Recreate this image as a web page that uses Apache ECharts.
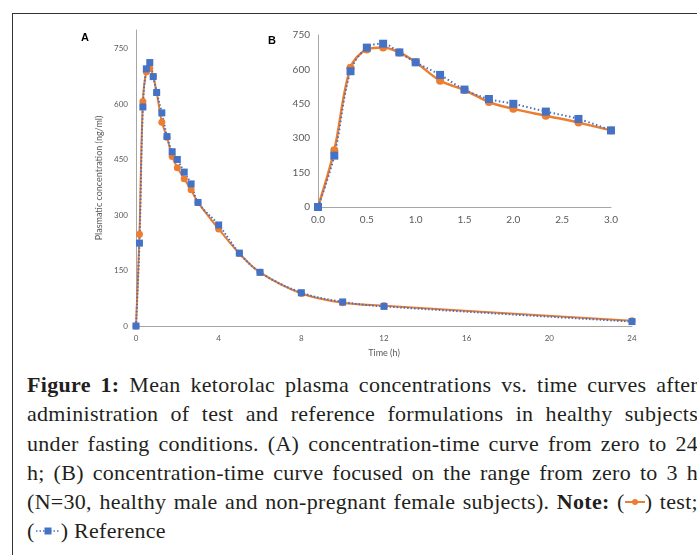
<!DOCTYPE html>
<html>
<head>
<meta charset="utf-8">
<script src="https://cdn.jsdelivr.net/npm/echarts@6/dist/echarts.min.js"></script>
<style>
html,body{margin:0;padding:0;width:697px;height:555px;overflow:hidden;background:#fff;}
#frame{position:absolute;left:12px;top:13px;width:800px;height:600px;border-top:1.5px solid #333;border-left:1.5px solid #333;}
#chart{position:absolute;left:0;top:0;width:697px;height:370px;}
#cap{position:absolute;left:27px;top:370px;width:671px;font-family:"Liberation Serif",serif;font-size:22px;line-height:29.3px;letter-spacing:0.3px;color:#231f20;}
#cap .j{text-align:justify;text-align-last:justify;white-space:nowrap;}
#cap b{font-weight:bold;}
.sym{display:inline-block;vertical-align:middle;margin-top:-4px;}
</style>
</head>
<body>
<div id="frame"></div>
<div id="chart"></div>
<div id="cap">
  <div class="j"><b>Figure 1:</b> Mean ketorolac plasma concentrations vs. time curves after</div>
  <div class="j">administration of test and reference formulations in healthy subjects</div>
  <div class="j">under fasting conditions. (A) concentration-time curve from zero to 24</div>
  <div class="j">h; (B) concentration-time curve focused on the range from zero to 3 h</div>
  <div class="j">(N=30, healthy male and non-pregnant female subjects). <b>Note:</b> (<svg class="sym" width="20" height="8"><line x1="0" y1="4" x2="20" y2="4" stroke="#ed7d31" stroke-width="2"/><circle cx="10" cy="4" r="3" fill="#ed7d31"/></svg>) test;</div>
  <div>(<svg class="sym" width="26" height="8"><line x1="1" y1="4" x2="25" y2="4" stroke="#4472c4" stroke-width="1.5" stroke-dasharray="1.5,2"/><rect x="9.5" y="0.5" width="7" height="7" fill="#4472c4"/></svg>) Reference</div>
</div>
<script>
// sampling times (h) and mean concentrations (ng/ml)
var timeH = [0, 0.167, 0.333, 0.5, 0.667, 0.833, 1, 1.25, 1.5, 1.75, 2, 2.333, 2.667, 3, 4, 5, 6, 8, 10, 12, 24];
var testConc = [0, 248, 607, 687, 696, 674, 631, 551, 510, 458, 428, 398, 368, 334, 262, 196, 145, 88, 63, 55, 14];
var refConc = [0, 224, 592, 695, 712, 674, 631, 576, 512, 471, 450, 416, 384, 334, 273, 197, 145, 90, 65, 53, 12];
var insetEnd = 3; // inset B shows 0..3 h

function pairs(xs, ys, maxX){
	var out = [];
	for (var i = 0; i < xs.length; i++) {
		if (maxX == null || xs[i] <= maxX) out.push([xs[i], ys[i]]);
	}
	return out;
}

var font = 'Lato, "Liberation Sans", sans-serif';
var axisGray = '#a6a6a6';
var labGray = '#595959';

var myChart = echarts.init(document.getElementById('chart'));
var option = {
	animation: false,
	grid: [
		{left: 136, right: 65, top: 30, bottom: 44},
		{left: 318, right: 86, top: 35, bottom: 163}
	],
	xAxis: [
		{type: 'value', gridIndex: 0, min: 0, max: 24, interval: 4,
		 name: 'Time (h)', nameLocation: 'middle', nameGap: 23,
		 nameTextStyle: {fontFamily: font, fontSize: 9, color: labGray},
		 axisLine: {lineStyle: {color: axisGray}}, axisTick: {show: false},
		 splitLine: {show: false},
		 axisLabel: {fontFamily: font, fontSize: 8, color: labGray, margin: 8}},
		{type: 'value', gridIndex: 1, min: 0, max: insetEnd, interval: 0.5,
		 axisLine: {lineStyle: {color: axisGray}}, axisTick: {show: false},
		 splitLine: {show: false},
		 axisLabel: {fontFamily: font, fontSize: 10, color: labGray, margin: 8,
		   formatter: function(v){ return v.toFixed(1); }}}
	],
	yAxis: [
		{type: 'value', gridIndex: 0, min: 0, max: 800, interval: 150,
		 name: 'Plasmatic concentration (ng/ml)', nameLocation: 'middle', nameGap: 30,
		 nameTextStyle: {fontFamily: font, fontSize: 9, color: labGray},
		 axisLine: {show: true, lineStyle: {color: axisGray}}, axisTick: {show: false},
		 splitLine: {show: false},
		 axisLabel: {fontFamily: font, fontSize: 8, color: labGray, margin: 8, showMaxLabel: false}},
		{type: 'value', gridIndex: 1, min: 0, max: 750, interval: 150,
		 axisLine: {show: true, lineStyle: {color: axisGray}}, axisTick: {show: false},
		 splitLine: {show: false},
		 axisLabel: {fontFamily: font, fontSize: 10, color: labGray, margin: 8}}
	],
	graphic: [
		{type: 'text', left: 81, top: 32, style: {text: 'A', font: 'bold 11px "Liberation Sans", Arial', fill: '#000'}},
		{type: 'text', left: 268, top: 35, style: {text: 'B', font: 'bold 11px "Liberation Sans", Arial', fill: '#000'}}
	],
	series: [
		{name: 'test', type: 'line', xAxisIndex: 0, yAxisIndex: 0, data: pairs(timeH, testConc),
		 smooth: 0.35, symbol: 'circle', symbolSize: 7,
		 lineStyle: {color: '#ed7d31', width: 2}, itemStyle: {color: '#ed7d31'}},
		{name: 'Reference', type: 'line', xAxisIndex: 0, yAxisIndex: 0, data: pairs(timeH, refConc),
		 smooth: 0.35, symbol: 'rect', symbolSize: 7,
		 lineStyle: {color: '#4472c4', width: 2, type: [1.5, 2]}, itemStyle: {color: '#4472c4'}},
		{name: 'test', type: 'line', xAxisIndex: 1, yAxisIndex: 1, data: pairs(timeH, testConc, insetEnd),
		 smooth: 0.35, symbol: 'circle', symbolSize: 8,
		 lineStyle: {color: '#ed7d31', width: 2.5}, itemStyle: {color: '#ed7d31'}},
		{name: 'Reference', type: 'line', xAxisIndex: 1, yAxisIndex: 1, data: pairs(timeH, refConc, insetEnd),
		 smooth: 0.35, symbol: 'rect', symbolSize: 8,
		 lineStyle: {color: '#4472c4', width: 2, type: [1.5, 2.5]}, itemStyle: {color: '#4472c4'}}
	]
};
myChart.setOption(option);
</script>
</body>
</html>
